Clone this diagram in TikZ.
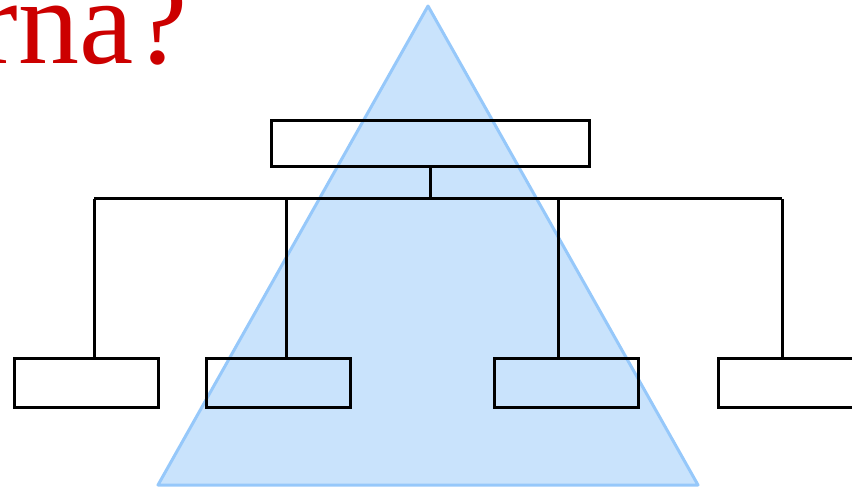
\documentclass[tikz,border=0pt]{standalone}
\usepackage{fontspec}
\setmainfont{Liberation Serif}
\usepackage{tikz}
\usetikzlibrary{positioning}

\definecolor{titlered}{RGB}{204,0,0}
\definecolor{trifill}{RGB}{201,227,252}
\definecolor{triedge}{RGB}{150,200,250}

\begin{document}
\begin{tikzpicture}[x=0.5pt, y=-0.5pt,
    box/.style={draw, line width=1.5pt, inner sep=0pt, minimum height=24.5pt, minimum width=72pt},
    link/.style={line width=1.5pt}]

    \useasboundingbox (0, 0) rectangle (852, 487);

    % Title
    \node[anchor=base east, text=titlered, font=\fontsize{61pt}{61pt}\selectfont, inner sep=0pt] (title) at (188, 63) {rna?};

    % Triangle
    \filldraw[fill=trifill, draw=triedge, line width=1.5pt, line join=round] (428, 6) -- (158, 485) -- (698, 485) -- cycle;

    % Boxes
    \node[box, minimum width=159pt, minimum height=23pt] (root) at (430, 143) {};
    \node[box] (leafA) at (86, 382.5) {};
    \node[box] (leafB) at (278, 382.5) {};
    \node[box] (leafC) at (566, 382.5) {};
    \node[box] (leafD) at (790, 382.5) {};

    % Connectors
    \coordinate (bus) at (430, 198.5);
    \draw[link] (root.south) -- (bus);
    \draw[link] ([xshift=4pt]leafA.north |- bus) -- ([xshift=-4pt]leafD.north |- bus);
    \draw[link] ([xshift=4pt]leafA.north) -- ([xshift=4pt]leafA.north |- bus);
    \draw[link] ([xshift=4pt]leafB.north) -- ([xshift=4pt]leafB.north |- bus);
    \draw[link] ([xshift=-4pt]leafC.north) -- ([xshift=-4pt]leafC.north |- bus);
    \draw[link] ([xshift=-4pt]leafD.north) -- ([xshift=-4pt]leafD.north |- bus);
\end{tikzpicture}
\end{document}
